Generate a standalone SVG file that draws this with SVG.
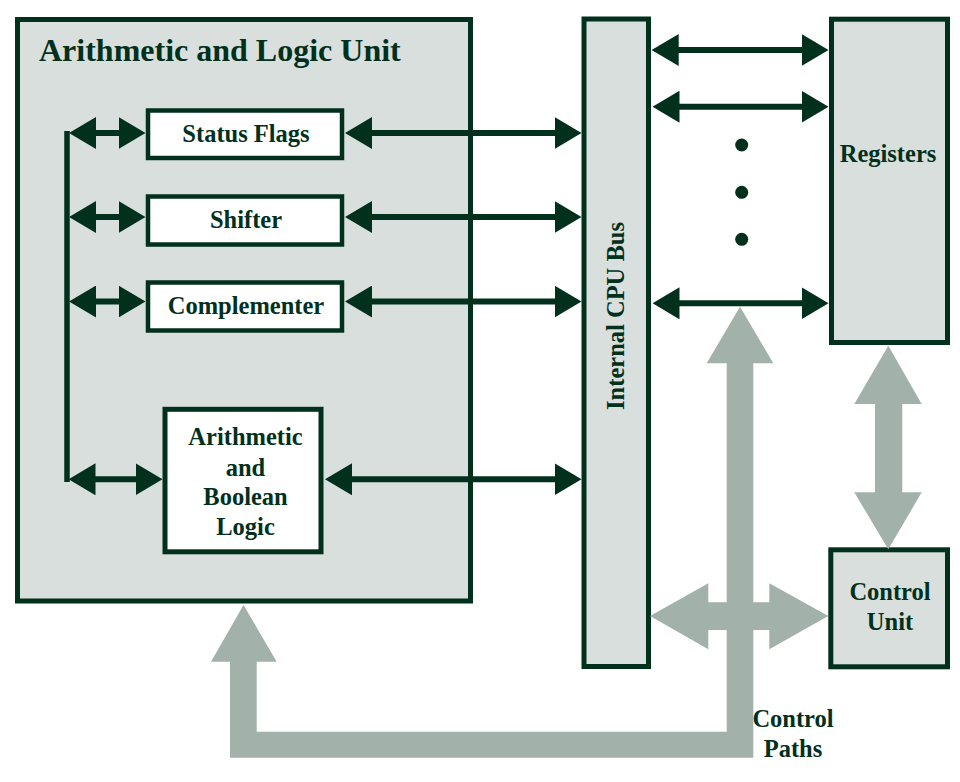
<svg xmlns="http://www.w3.org/2000/svg" width="960" height="782" viewBox="0 0 960 782">
<style>
  .box { stroke: #01301c; stroke-width: 5; }
  .grey { fill: #d9dfdd; }
  .white { fill: #ffffff; }
  .lbl { font-family: "Liberation Serif", "Times New Roman", serif; font-weight: bold; font-size: 24.5px; fill: #01301c; text-anchor: middle; }
  .title { font-family: "Liberation Serif", "Times New Roman", serif; font-weight: bold; font-size: 32px; fill: #01301c; }
  .dark { stroke: #01301c; stroke-width: 6; fill: none; marker-start: url(#ah); marker-end: url(#ah); }
  .ctl { fill: #a2b1a9; stroke: none; }
</style>
<defs>
  <marker id="ah" viewBox="0 0 27 32" markerWidth="27" markerHeight="32" refX="21" refY="16" orient="auto-start-reverse" markerUnits="userSpaceOnUse">
    <polygon points="0,0 27,16 0,32" fill="#01301c"/>
  </marker>
</defs>
<rect width="960" height="782" fill="#ffffff"/>

<g id="alu">
  <rect class="box grey" x="17.5" y="19.5" width="453" height="581.5"/>
  <text class="title" x="39" y="61">Arithmetic and Logic Unit</text>
</g>
<g id="status-flags">
  <rect class="box white" x="148" y="110.5" width="194" height="47.5" style="stroke-width:4.5"/>
  <text class="lbl" x="246" y="141.7">Status Flags</text>
</g>
<g id="shifter">
  <rect class="box white" x="148" y="196.5" width="194" height="48" style="stroke-width:4.5"/>
  <text class="lbl" x="246" y="227.7">Shifter</text>
</g>
<g id="complementer">
  <rect class="box white" x="148" y="282.5" width="194" height="48" style="stroke-width:4.5"/>
  <text class="lbl" x="246" y="313.5">Complementer</text>
</g>
<g id="arith-boolean">
  <rect class="box white" x="165" y="409.3" width="156" height="142.5"/>
  <text class="lbl" x="245.5" y="445">Arithmetic</text>
  <text class="lbl" x="245.5" y="475.7">and</text>
  <text class="lbl" x="245.5" y="505">Boolean</text>
  <text class="lbl" x="245.5" y="535">Logic</text>
</g>
<g id="bus">
  <rect class="box grey" x="584" y="19" width="64.5" height="647.5"/>
  <text class="lbl" x="624" y="316" transform="rotate(-90 624 316)">Internal CPU Bus</text>
</g>
<g id="registers">
  <rect class="box grey" x="831.5" y="19.2" width="116" height="323.3"/>
  <text class="lbl" x="888" y="162">Registers</text>
</g>
<g id="control-unit">
  <rect class="box grey" x="830.8" y="549.8" width="116.7" height="117"/>
  <text class="lbl" x="890" y="600">Control</text>
  <text class="lbl" x="890" y="630">Unit</text>
</g>

<g id="connectors">
  <line x1="67" y1="131" x2="67" y2="482" stroke="#01301c" stroke-width="5.5"/>
  <line class="dark" x1="75" y1="133" x2="139.5" y2="133"/>
  <line class="dark" x1="75" y1="217" x2="139.5" y2="217"/>
  <line class="dark" x1="75" y1="301.5" x2="139.5" y2="301.5"/>
  <line class="dark" x1="74.5" y1="479.3" x2="156.5" y2="479.3"/>
  <line class="dark" x1="351" y1="133" x2="575.5" y2="133"/>
  <line class="dark" x1="351" y1="217" x2="575.5" y2="217"/>
  <line class="dark" x1="351" y1="301.5" x2="575.5" y2="301.5"/>
  <line class="dark" x1="331" y1="479.3" x2="575.5" y2="479.3"/>
  <line class="dark" x1="657.7" y1="50" x2="822.5" y2="50"/>
  <line class="dark" x1="658.5" y1="106.7" x2="822.5" y2="106.7"/>
  <line class="dark" x1="658.5" y1="303.3" x2="822.5" y2="303.3"/>
  <g fill="#01301c">
    <circle cx="741.7" cy="145" r="6.5"/>
    <circle cx="741.7" cy="192.3" r="6.5"/>
    <circle cx="741.7" cy="239.3" r="6.5"/>
  </g>
  <polygon class="ctl" points="740,306.7 773.3,363.3 753.3,363.3 753.3,757.7 230,757.7 230,661.7 211,661.7 243.5,605 276.7,661.7 256.7,661.7 256.7,731.7 726.7,731.7 726.7,363.3 706.7,363.3"/>
  <polygon class="ctl" points="650,616 708.3,583.3 708.3,602.3 769.3,602.3 769.3,583.3 828.3,616 769.3,649.3 769.3,630 708.3,630 708.3,649.3"/>
  <polygon class="ctl" points="888.3,345.7 921.7,404 902.3,404 902.3,492.3 921.7,492.3 888.3,549.3 854.3,492.3 875,492.3 875,404 854.3,404"/>
  <text class="lbl" x="793" y="727.3">Control</text>
  <text class="lbl" x="793" y="756.7">Paths</text>
</g>
</svg>
